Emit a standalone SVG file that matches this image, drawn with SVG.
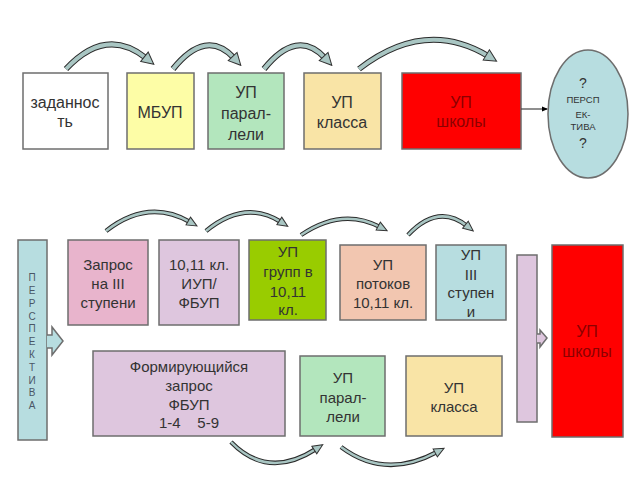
<svg xmlns="http://www.w3.org/2000/svg" width="640" height="480" viewBox="0 0 640 480">
<defs>
<style>
.b{stroke:#6e6e6e;stroke-width:1.5}
.t{font-family:"Liberation Sans",Arial,sans-serif;font-size:16px;fill:#333;text-anchor:middle}
.s{font-size:15px}
.r{fill:#8c0000}
.sm{font-size:9.5px}
.ao{fill:none;stroke:#2a2a2a;stroke-width:6;stroke-linecap:butt}
.ai{fill:none;stroke:#a9c6c3;stroke-width:4;stroke-linecap:butt}
.bo{fill:none;stroke:#2a2a2a;stroke-width:4.5}
.bi{fill:none;stroke:#a9c6c3;stroke-width:2.5}
</style>
<marker id="ah" markerUnits="userSpaceOnUse" markerWidth="14" markerHeight="14" viewBox="0 0 14 14" refX="3" refY="7" orient="auto">
<path d="M1,1 L13,7 L1,13 z" fill="#a9c6c3" stroke="#333" stroke-width="1"/>
</marker>
<marker id="ah2" markerUnits="userSpaceOnUse" markerWidth="12" markerHeight="12" viewBox="0 0 12 12" refX="3" refY="6" orient="auto">
<path d="M1,1.5 L11,6 L1,10.5 z" fill="#a9c6c3" stroke="#333" stroke-width="1"/>
</marker>
<marker id="blk" markerUnits="userSpaceOnUse" markerWidth="6" markerHeight="6" viewBox="0 0 6 6" refX="5" refY="3" orient="auto">
<path d="M0,0.5 L6,3 L0,5.5 z" fill="#000"/>
</marker>
</defs>
<rect width="640" height="480" fill="#fff"/>

<g id="n-zadannost">
<rect class="b" x="23" y="73" width="85" height="76" fill="#fff"/>
<text class="t" x="65" y="108">заданнос</text>
<text class="t" x="65" y="127">ть</text>
</g>
<g id="n-mbup">
<rect class="b" x="127" y="73" width="67" height="76" fill="#fdfda6"/>
<text class="t" x="160" y="118">МБУП</text>
</g>
<g id="n-up-paral-top">
<rect class="b" x="208" y="73" width="76" height="76" fill="#b3e6bd"/>
<text class="t" x="246" y="98">УП</text>
<text class="t" x="246" y="119">парал-</text>
<text class="t" x="246" y="140">лели</text>
</g>
<g id="n-up-klassa-top">
<rect class="b" x="304" y="73" width="77" height="76" fill="#f9e4a6"/>
<text class="t" x="342" y="108">УП</text>
<text class="t" x="342" y="128">класса</text>
</g>
<g id="n-up-shkoly-top">
<rect class="b" x="402" y="73" width="119" height="76" fill="#ff0000"/>
<text class="t r" x="461" y="108">УП</text>
<text class="t r" x="461" y="127">школы</text>
</g>
<g id="n-perspektiva-ellipse">
<ellipse class="b" cx="588" cy="114" rx="40" ry="64" fill="#b7dde0"/>
<text class="t" x="583" y="88" style="font-size:14px">?</text>
<text class="t sm" x="583" y="103">ПЕРСП</text>
<text class="t sm" x="583" y="118">ЕК-</text>
<text class="t sm" x="583" y="130">ТИВА</text>
<text class="t" x="583" y="148" style="font-size:14px">?</text>
</g>

<g id="n-perspektiva-bar">
<rect class="b" x="18" y="240" width="29" height="200" fill="#b7dde0"/>
<path class="b" d="M47,335 L52,335 L52,327 L63,341 L52,355 L52,348 L47,348" fill="#b7dde0"/>
<g class="t" style="font-size:10px;fill:#4a5666">
<text x="32" y="281">П</text>
<text x="32" y="294">Е</text>
<text x="32" y="307">Р</text>
<text x="32" y="320">С</text>
<text x="32" y="332">П</text>
<text x="32" y="345">Е</text>
<text x="32" y="358">К</text>
<text x="32" y="371">Т</text>
<text x="32" y="384">И</text>
<text x="32" y="396">В</text>
<text x="32" y="409">А</text>
</g>
</g>
<g id="n-zapros">
<rect class="b" x="68" y="240" width="80" height="85" fill="#e8b4cc"/>
<text class="t s" x="108" y="270">Запрос</text>
<text class="t s" x="108" y="289">на III</text>
<text class="t s" x="108" y="308">ступени</text>
</g>
<g id="n-iup">
<rect class="b" x="159" y="240" width="80" height="85" fill="#dec6de"/>
<text class="t s" x="199" y="270">10,11 кл.</text>
<text class="t s" x="199" y="289">ИУП/</text>
<text class="t s" x="199" y="308">ФБУП</text>
</g>
<g id="n-up-grupp">
<rect class="b" x="249" y="240" width="77" height="80" fill="#99cc00"/>
<text class="t s" x="288" y="257">УП</text>
<text class="t s" x="288" y="277">групп в</text>
<text class="t s" x="288" y="297">10,11</text>
<text class="t s" x="288" y="315">кл.</text>
</g>
<g id="n-up-potokov">
<rect class="b" x="340" y="245" width="86" height="75" fill="#f2c6b0"/>
<text class="t s" x="383" y="270">УП</text>
<text class="t s" x="383" y="289">потоков</text>
<text class="t s" x="383" y="308">10,11 кл.</text>
</g>
<g id="n-up-iii">
<rect class="b" x="436" y="245" width="70" height="75" fill="#b7dde0"/>
<text class="t s" x="471" y="260">УП</text>
<text class="t s" x="471" y="280">III</text>
<text class="t s" x="471" y="298">ступен</text>
<text class="t s" x="471" y="317">и</text>
</g>
<g id="n-collector-bar">
<rect class="b" x="517" y="255" width="20" height="167" fill="#dec6de"/>
<path class="b" d="M537,334 L540,334 L540,330 L547,338 L540,347 L540,343 L537,343" fill="#dec6de"/>
</g>
<g id="n-up-shkoly-bottom">
<rect class="b" x="552" y="245" width="71" height="192" fill="#ff0000"/>
<text class="t r" x="587" y="337">УП</text>
<text class="t r" x="587" y="357">школы</text>
</g>
<g id="n-formir">
<rect class="b" x="93" y="351" width="192" height="85" fill="#dec6de"/>
<text class="t s" x="189" y="372">Формирующийся</text>
<text class="t s" x="189" y="391">запрос</text>
<text class="t s" x="189" y="410">ФБУП</text>
<text class="t s" x="189" y="428" xml:space="preserve">1-4    5-9</text>
</g>
<g id="n-up-paral-bottom">
<rect class="b" x="300" y="356" width="85" height="80" fill="#b3e6bd"/>
<text class="t s" x="343" y="383">УП</text>
<text class="t s" x="343" y="403">парал-</text>
<text class="t s" x="343" y="422">лели</text>
</g>
<g id="n-up-klassa-bottom">
<rect class="b" x="406" y="356" width="96" height="80" fill="#f9e4a6"/>
<text class="t s" x="454" y="393">УП</text>
<text class="t s" x="454" y="412">класса</text>
</g>

<g id="connectors">
<line x1="521" y1="109" x2="547" y2="109" stroke="#444" stroke-width="1.2" marker-end="url(#blk)"/>
<!-- top row curved arrows -->
<path class="ao" d="M66,69 Q106,26 146,58"/>
<path class="ai" d="M66,69 Q106,26 146,58" marker-end="url(#ah)"/>
<path class="ao" d="M173,69 Q206,28 234,58"/>
<path class="ai" d="M173,69 Q206,28 234,58" marker-end="url(#ah)"/>
<path class="ao" d="M264,69 Q297,28 325,58"/>
<path class="ai" d="M264,69 Q297,28 325,58" marker-end="url(#ah)"/>
<path class="ao" d="M359,69 Q425,18 488,56"/>
<path class="ai" d="M359,69 Q425,18 488,56" marker-end="url(#ah)"/>
<!-- bottom row upper arrows -->
<path class="bo" d="M106,231 Q148,198 190,222"/>
<path class="bi" d="M106,231 Q148,198 190,222" marker-end="url(#ah2)"/>
<path class="bo" d="M206,231 Q245,199 281,222"/>
<path class="bi" d="M206,231 Q245,199 281,222" marker-end="url(#ah2)"/>
<path class="bo" d="M301,235 Q342,207 380,227"/>
<path class="bi" d="M301,235 Q342,207 380,227" marker-end="url(#ah2)"/>
<path class="bo" d="M408,235 Q438,203 467,226"/>
<path class="bi" d="M408,235 Q438,203 467,226" marker-end="url(#ah2)"/>
<!-- bottom row lower arrows -->
<path class="bo" d="M231,442 Q268,480 316,449"/>
<path class="bi" d="M231,442 Q268,480 316,449" marker-end="url(#ah2)"/>
<path class="bo" d="M341,447 Q385,480 437,452"/>
<path class="bi" d="M341,447 Q385,480 437,452" marker-end="url(#ah2)"/>
</g>
</svg>
